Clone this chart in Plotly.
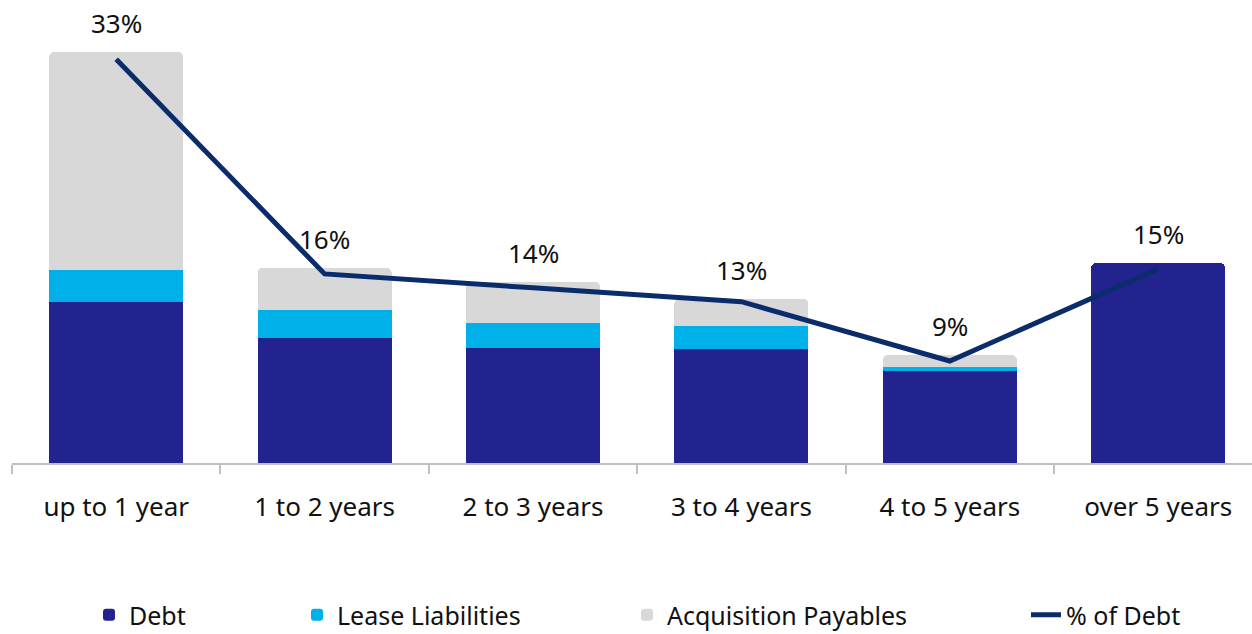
import plotly.graph_objects as go

categories = ["up to 1 year", "1 to 2 years", "2 to 3 years", "3 to 4 years", "4 to 5 years", "over 5 years"]
debt = [161, 125, 115, 114, 92, 200]
lease_liabilities = [32, 28, 25, 23, 4, 0]
acquisition_payables = [218, 42, 41, 27, 12, 0]
pct_of_debt_line = [32.9, 15.9, 14.8, 13.7, 9.0, 16.3]
pct_labels = ["33%", "16%", "14%", "13%", "9%", "15%"]

DEBT_C = "#22238F"
LEASE_C = "#00B0E8"
ACQ_C = "#D8D8D8"
LINE_C = "#0B2C6B"
FONT = "Noto Sans"

totals = [d + l + a for d, l, a in zip(debt, lease_liabilities, acquisition_payables)]

fig = go.Figure()
fig.add_trace(go.Bar(x=categories, y=debt, name="Debt", marker=dict(color=DEBT_C, line=dict(width=0)),
                     width=0.643, legend="legend"))
fig.add_trace(go.Bar(x=categories, y=lease_liabilities, name="Lease Liabilities",
                     marker=dict(color=LEASE_C, line=dict(width=0)), width=0.643, legend="legend2"))
fig.add_trace(go.Bar(x=categories, y=acquisition_payables, name="Acquisition Payables",
                     marker=dict(color=ACQ_C, line=dict(width=0)), width=0.643, legend="legend3"))
fig.add_trace(go.Scatter(x=categories, y=pct_of_debt_line, name="% of Debt", mode="lines",
                         line=dict(color=LINE_C, width=5), yaxis="y2", legend="legend4"))

for c, t, lab in zip(categories, totals, pct_labels):
    fig.add_annotation(x=c, y=t, text=lab, showarrow=False, yshift=29, yanchor="middle",
                       font=dict(family=FONT, size=26, color="#111111"))

legend_common = dict(orientation="h", yanchor="middle", yref="container", y=1 - 615 / 634,
                     xanchor="left", xref="container",
                     font=dict(family=FONT, size=25, color="#111111"), bgcolor="rgba(0,0,0,0)")
fig.update_layout(
    width=1252, height=634,
    margin=dict(l=12, r=0, t=0, b=171),
    paper_bgcolor="white", plot_bgcolor="white",
    barmode="stack", barcornerradius=5,
    showlegend=True,
    legend=dict(x=89 / 1252, **legend_common),
    legend2=dict(x=297 / 1252, **legend_common),
    legend3=dict(x=627 / 1252, **legend_common),
    legend4=dict(x=1026 / 1252, **legend_common),
    xaxis=dict(range=[-0.5, 5.45], showline=True, linecolor="#BFBFBF", linewidth=2,
               ticks="outside", tickson="boundaries", ticklen=9, tickcolor="#BFBFBF", tickwidth=2,
               showgrid=False, zeroline=False, ticklabelstandoff=20,
               tickfont=dict(family=FONT, size=26, color="#111111")),
    yaxis=dict(range=[0, 463], visible=False, showgrid=False),
    yaxis2=dict(range=[0.92, 37.6], overlaying="y", visible=False, showgrid=False),
)

fig.write_html("out.html")
